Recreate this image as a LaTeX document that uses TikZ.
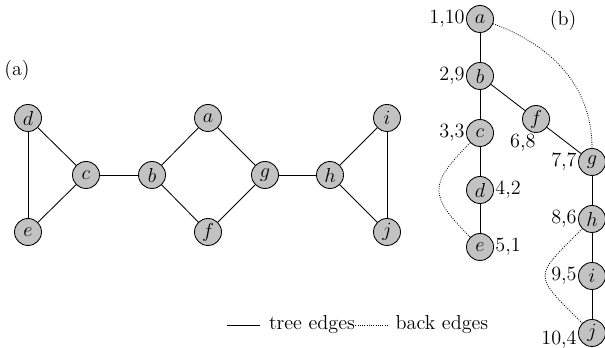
\documentclass[tikz,border=0pt]{standalone}
\usetikzlibrary{positioning}

\tikzstyle{vertex} = [circle, draw=black, fill=gray!48, minimum size=0.675cm, inner sep=0pt, line width=0.6pt]
\tikzstyle{treeedge} = [line width=0.6pt]
\tikzstyle{backedge} = [densely dotted, line width=0.6pt]

\begin{document}
\begin{tikzpicture}[font=\fontsize{14.4}{17}\selectfont, label distance=-2.5pt, node distance=1.425cm]
	\useasboundingbox (0,0) rectangle (15.125,8.7);
	
	%graph (a)
	\node (capa) at (0.425,6.95) {(a)};
	\node (d) [vertex] at (0.7,5.75) {$d$};
	\node (e) [vertex] at (0.7,2.9) {$e$};
	\node (c) [vertex] at (2.15,4.325) {$c$};
	\node (b) [vertex] at (3.8,4.325) {$b$};
	\node (a) [vertex] at (5.2,5.75) {$a$};
	\node (f) [vertex] at (5.2,2.9) {$f$};
	\node (g) [vertex] at (6.625,4.325) {$g$};
	\node (h) [vertex] at (8.25,4.325) {$h$};
	\node (i) [vertex] at (9.675,5.75) {$i$};
	\node (j) [vertex] at (9.675,2.9) {$j$};
	
	\draw [treeedge] (d) -- (e);
	\draw [treeedge] (d) -- (c);
	\draw [treeedge] (e) -- (c);
	\draw [treeedge] (c) -- (b);
	\draw [treeedge] (b) -- (a);
	\draw [treeedge] (b) -- (f);
	\draw [treeedge] (a) -- (g);
	\draw [treeedge] (f) -- (g);
	\draw [treeedge] (g) -- (h);
	\draw [treeedge] (h) -- (i);
	\draw [treeedge] (h) -- (j);
	\draw [treeedge] (i) -- (j);
	
	%tree (b)
	\node (capb) at (14.075,8.2) {(b)};
	\node (ta) [vertex, label={left:1,10}] at (12,8.225) {$a$};
	\node (tb) [vertex, below of=ta, label={left:2,9}] {$b$};
	\node (tc) [vertex, below of=tb, label={left:3,3}] {$c$};
	\node (td) [vertex, below of=tc, label={right:4,2}] {$d$};
	\node (te) [vertex, below of=td, label={right:5,1}] {$e$};
	\node (tg) [vertex, label={left:7,7}] at (14.8,4.65) {$g$};
	\node (tf) [vertex, label={[xshift=-0.33cm]below:6,8}] at (13.4,5.725) {$f$};
	\node (th) [vertex, below of=tg, label={left:8,6}] {$h$};
	\node (ti) [vertex, below of=th, label={left:9,5}] {$i$};
	\node (tj) [vertex, below of=ti, label={[yshift=-0.175cm]left:10,4}] {$j$};
	
	\draw [treeedge] (ta) -- (tb);
	\draw [treeedge] (tb) -- (tc);
	\draw [treeedge] (tc) -- (td);
	\draw [treeedge] (td) -- (te);
	\draw [treeedge] (tb) -- (tf);
	\draw [treeedge] (tf) -- (tg);
	\draw [treeedge] (tg) -- (th);
	\draw [treeedge] (th) -- (ti);
	\draw [treeedge] (ti) -- (tj);
	
	%back edges
	\draw [backedge] (ta) to[out=-20,in=90] (tg);
	\draw [backedge] (tc) to[out=225,in=135,looseness=1.6] (te);
	\draw [backedge] (th) to[out=225,in=135,looseness=1.9] (tj);
	
	%legend
	\node (treelbl) [inner sep=0pt] at (7.8,0.575) {tree edges};
	\node (backlbl) [inner sep=0pt] at (11.05,0.575) {back edges};
	\draw [treeedge] ([xshift=-1.05cm]treelbl.west) -- ([xshift=-0.225cm]treelbl.west);
	\draw [backedge] (treelbl.east) -- ([xshift=-0.2cm]backlbl.west);
	
\end{tikzpicture}
\end{document}
